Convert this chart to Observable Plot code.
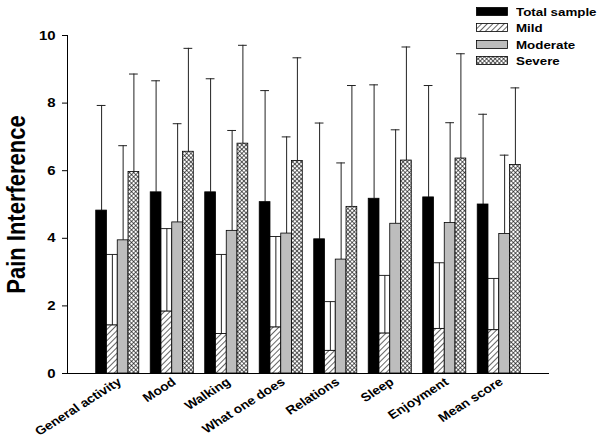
<!DOCTYPE html>
<html><head><meta charset="utf-8">
<script src="https://cdn.jsdelivr.net/npm/d3@7"></script>
<script src="https://cdn.jsdelivr.net/npm/@observablehq/plot@0.6"></script>
<style>
body{margin:0;background:#fff;}
#wrap{position:relative;width:602px;height:448px;}
#legend{position:absolute;left:476px;top:3px;font:bold 11.6px "Liberation Sans",Arial,sans-serif;color:#000;}
.row{display:flex;align-items:center;height:16.5px;}
.row svg{margin-right:8px;flex:none;}
.row span{display:inline-block;transform:scaleX(1.15);transform-origin:left center;white-space:nowrap;}
</style></head><body>
<div id="wrap"><div id="chart"></div><div id="legend"></div></div>
<script>
const categories = ["General activity","Mood","Walking","What one does","Relations","Sleep","Enjoyment","Mean score"];
const series = ["Total sample","Mild","Moderate","Severe"];
const totalValues = [4.82,5.36,5.36,5.07,3.97,5.17,5.21,5.00];
const totalUpper  = [7.93,8.66,8.72,8.37,7.41,8.54,8.52,7.67];
const mildValues  = [1.42,1.83,1.17,1.36,0.67,1.18,1.32,1.28];
const mildUpper   = [3.51,4.27,3.51,4.04,2.11,2.89,3.26,2.80];
const moderateValues = [3.94,4.47,4.22,4.14,3.37,4.43,4.45,4.13];
const moderateUpper  = [6.74,7.39,7.19,7.00,6.23,7.21,7.42,6.46];
const severeValues = [5.96,6.56,6.80,6.29,4.93,6.30,6.36,6.17];
const severeUpper  = [8.86,9.62,9.71,9.34,8.52,9.66,9.46,8.45];
const yTicks = [0,2,4,6,8,10];

const valuesBySeries = [totalValues, mildValues, moderateValues, severeValues];
const upperBySeries = [totalUpper, mildUpper, moderateUpper, severeUpper];
const fills = ["black","url(#hatch)","#bdbdbd","url(#cross)"];

const width = 602, height = 448;
const marginLeft = 67, marginRight = 53, marginTop = 35, marginBottom = 75;
const paddingInner = 0.21, paddingOuter = 0.527;
const step = (width - marginLeft - marginRight) / (categories.length - paddingInner + 2 * paddingOuter);
const bw = step * (1 - paddingInner);
const q = bw / 4;
const stretch = 1.15;

const rows = series.map((s, k) => categories.map((c, i) => ({category: c, series: s, k, value: valuesBySeries[k][i], upper: upperBySeries[k][i]})));

const marks = [];
rows.forEach((data, k) => {
  const inset = {insetLeft: k * q, insetRight: (3 - k) * q};
  marks.push(Plot.ruleX(data, {x: "category", y1: "value", y2: "upper", dx: (k - 1.5) * q, stroke: "#222", strokeWidth: 1}));
  marks.push(Plot.tickY(data, {x: "category", y: "upper", insetLeft: k * q + 1, insetRight: (3 - k) * q + 1, stroke: "#222", strokeWidth: 1}));
  if (k === 1) {
    marks.push(Plot.barY(data, {x: "category", y1: "value", y2: "upper", fill: "white", stroke: "black", strokeWidth: 0.8, ...inset}));
    marks.push(Plot.ruleX(data, {x: "category", y1: "value", y2: "upper", dx: (k - 1.5) * q, stroke: "#222", strokeWidth: 1}));
  }
  marks.push(Plot.barY(data, {x: "category", y: "value", fill: fills[k], stroke: "black", strokeWidth: 0.8, ...inset}));
});

const chart = Plot.plot({
  width, height, marginLeft, marginRight, marginTop, marginBottom,
  style: {fontFamily: "'Liberation Sans', Arial, sans-serif", fontWeight: "bold", color: "black", background: "white"},
  x: {type: "band", domain: categories, paddingInner, paddingOuter, round: false, label: null},
  y: {domain: [0, 10], label: null},
  marks: [
    ...marks,
    Plot.ruleY([0], {stroke: "black", strokeWidth: 1}),
    Plot.frame({anchor: "left", stroke: "black", strokeWidth: 1}),
    Plot.axisY({ticks: yTicks, tickSize: 5, tickPadding: 7, fontSize: 13, tickFormat: d => d, label: null}),
    Plot.axisX({tickSize: 0, tickRotate: -36, tickPadding: 7, dx: 2, fontSize: 12, label: null}),
    Plot.text(["Pain Interference"], {frameAnchor: "left", rotate: -90, textAnchor: "middle", dx: -51, fontSize: 22, fontWeight: "bold"})
  ]
});

// horizontal stretch of the reference typography
d3.select(chart).selectAll("text").each(function() {
  const t = this.getAttribute("transform");
  if (t && t.includes("rotate(")) {
    this.setAttribute("transform", t.replace("rotate(", `scale(${stretch},1) rotate(`));
  } else if (t) {
    this.setAttribute("transform", `${t} scale(${stretch},1)`);
  } else {
    const x = +(this.getAttribute("x") || 0), y = +(this.getAttribute("y") || 0);
    this.removeAttribute("x"); this.removeAttribute("y");
    this.setAttribute("transform", `translate(${x},${y}) scale(${stretch},1)`);
  }
});

const defs = d3.select(chart).insert("defs", ":first-child");
const hatch = defs.append("pattern").attr("id", "hatch").attr("patternUnits", "userSpaceOnUse")
  .attr("width", 4).attr("height", 4).attr("patternTransform", "rotate(45)");
hatch.append("rect").attr("width", 4).attr("height", 4).attr("fill", "white");
hatch.append("line").attr("x1", 0).attr("y1", 0).attr("x2", 0).attr("y2", 4).attr("stroke", "black").attr("stroke-width", 1.2);
const cross = defs.append("pattern").attr("id", "cross").attr("patternUnits", "userSpaceOnUse")
  .attr("width", 3).attr("height", 3).attr("patternTransform", "rotate(45)");
cross.append("rect").attr("width", 3).attr("height", 3).attr("fill", "white");
cross.append("line").attr("x1", 0).attr("y1", 0).attr("x2", 0).attr("y2", 3).attr("stroke", "black").attr("stroke-width", 1.2);
cross.append("line").attr("x1", 0).attr("y1", 0).attr("x2", 3).attr("y2", 0).attr("stroke", "black").attr("stroke-width", 1.2);

document.getElementById("chart").appendChild(chart);

const legend = d3.select("#legend");
series.forEach((s, k) => {
  const row = legend.append("div").attr("class", "row");
  const svg = row.append("svg").attr("width", 32).attr("height", 9);
  svg.append("rect").attr("x", 0.5).attr("y", 0.5).attr("width", 31).attr("height", 8)
    .attr("fill", fills[k]).attr("stroke", "black").attr("stroke-width", 0.8);
  row.append("span").text(s);
});
</script>
</body></html>
